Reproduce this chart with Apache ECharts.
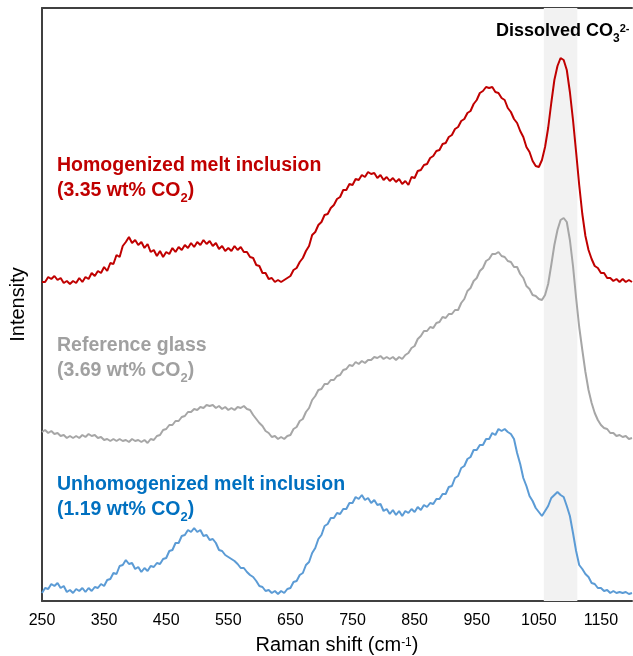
<!DOCTYPE html>
<html><head><meta charset="utf-8">
<script src="https://cdn.jsdelivr.net/npm/echarts@6/dist/echarts.min.js"></script>
<style>html,body{margin:0;padding:0;background:#fff}#c{width:633px;height:656px}</style>
</head><body><div id="c"></div>
<script>
// Raman shift sample positions (cm-1)
const wavenumbers = [
250,255,260,265,270,275,280,285,290,295,300,305,310,315,320,325,330,335,340,345,
350,355,360,365,370,375,380,385,390,395,400,405,410,415,420,425,430,435,440,445,
450,455,460,465,470,475,480,485,490,495,500,505,510,515,520,525,530,535,540,545,
550,555,560,565,570,575,580,585,590,595,600,605,610,615,620,625,630,635,640,645,
650,655,660,665,670,675,680,685,690,695,700,705,710,715,720,725,730,735,740,745,
750,755,760,765,770,775,780,785,790,795,800,805,810,815,820,825,830,835,840,845,
850,855,860,865,870,875,880,885,890,895,900,905,910,915,920,925,930,935,940,945,
950,955,960,965,970,975,980,985,990,995,1000,1005,1010,1015,1020,1025,1030,1035,1040,1045,
1050,1055,1060,1065,1070,1075,1080,1085,1090,1095,1100,1105,1110,1115,1120,1125,1130,1135,1140,1145,
1150,1155,1160,1165,1170,1175,1180,1185,1190,1195,1200];

// Intensities (arbitrary units, stacked offsets as in the figure)
const homogenized = [
318,318,323,321,324,320,322,317,319,316,
319,317,322,318,323,321,327,324,329,327,
333,329,337,336,345,343,354,358,363,357,
360,355,358,352,356,348,350,344,349,343,
348,346,352,348,353,350,355,352,357,353,
358,355,360,356,359,354,357,351,354,349,
352,349,354,350,353,348,348,343,342,335,
334,327,327,321,322,318,320,318,320,322,
324,330,332,338,342,349,354,365,368,375,
378,385,386,392,395,401,403,410,410,416,
415,421,420,425,423,428,426,427,422,425,
420,423,419,422,418,421,416,419,415,423,
422,429,430,435,436,442,444,449,450,456,
457,463,465,471,473,479,481,487,489,496,
500,507,509,513,512,513,508,507,502,500,
492,488,481,477,469,463,453,448,439,434,
433,440,453,472,497,520,534,542,540,530,
508,480,448,415,386,364,350,341,334,332,
327,327,322,322,319,321,318,321,318,320,
318];

const referenceGlass = [
168,170,167,169,166,167,164,165,162,164,
162,164,162,165,163,166,164,165,162,163,
160,161,159,161,159,161,159,160,158,161,
159,160,158,160,157,161,160,164,165,170,
171,175,175,179,179,183,184,188,188,191,
190,193,192,195,194,195,192,194,191,193,
190,192,190,193,192,194,191,190,185,181,
177,174,169,167,163,164,161,163,161,164,
165,171,173,179,181,188,192,200,204,210,
211,216,216,220,220,224,225,230,231,235,
234,238,236,239,237,240,240,243,242,244,
241,243,241,243,240,243,241,245,247,252,
254,261,264,269,269,273,272,277,278,283,
282,286,286,290,290,297,301,309,312,319,
322,329,332,339,341,346,346,348,344,343,
339,338,333,333,326,322,314,311,305,304,
301,300,305,316,335,355,370,380,382,378,
360,334,302,273,250,228,210,197,187,180,
175,172,171,167,167,164,165,163,164,161,
162];

const unhomogenized = [
7,12,11,16,14,17,12,14,8,10,
7,11,9,12,8,12,9,13,12,16,
14,20,21,27,26,34,35,40,36,37,
31,33,28,32,29,34,33,37,36,41,
42,49,50,57,57,64,65,70,68,72,
68,70,64,65,60,61,57,50,49,45,
43,41,39,36,32,32,28,25,23,19,
14,13,9,10,7,9,6,9,7,11,
12,18,19,25,27,35,38,47,52,61,
65,74,76,82,82,87,86,91,91,97,
97,103,101,105,100,102,97,100,95,96,
89,91,86,90,85,89,84,89,87,91,
88,93,90,95,93,97,96,101,101,106,
106,113,114,122,124,132,134,141,143,150,
150,155,155,161,161,167,165,171,169,171,
168,166,161,147,136,122,114,104,99,92,
88,84,89,94,102,105,108,105,103,94,
84,67,49,35,31,26,23,17,16,12,
12,9,10,7,9,7,8,7,8,6,
7];

const xTickValues = [250,350,450,550,650,750,850,950,1050,1150];
const carbonateBand = [1058, 1112];
const seriesNames = ['Homogenized melt inclusion', 'Reference glass', 'Unhomogenized melt inclusion'];
const seriesCO2 = ['3.35', '3.69', '1.19'];
const bandLabel = 'Dissolved CO';

const FONT = "'Liberation Sans', Arial, Helvetica, sans-serif";
const lineColors = ['#C00000', '#A6A6A6', '#5B9BD5'];
const textColors = ['#C00000', '#A0A0A0', '#0070C0'];
const labelCenters = [165.5, 345.5, 484.5];

function pairs(ys) { return wavenumbers.map((w, i) => [w, ys[i]]); }

const chart = echarts.init(document.getElementById('c'), null, {renderer: 'canvas'});

const graphics = [];
seriesNames.forEach((name, i) => {
  graphics.push({
    type: 'text', x: 57, y: labelCenters[i], silent: true, z: 100,
    style: {text: name, fontSize: 19.5, fontWeight: 'bold', fontFamily: FONT,
            fill: textColors[i], verticalAlign: 'middle', align: 'left'}
  });
  graphics.push({
    type: 'text', x: 57, y: labelCenters[i] + 25 - 14.5, silent: true, z: 100,
    style: {
      text: '{m|(' + seriesCO2[i] + ' wt% CO}{s|2}{m|)}',
      fill: textColors[i], lineHeight: 29, verticalAlign: 'top', align: 'left',
      rich: {
        m: {fontSize: 19.5, fontWeight: 'bold', fontFamily: FONT, fill: textColors[i], verticalAlign: 'middle'},
        s: {fontSize: 13, fontWeight: 'bold', fontFamily: FONT, fill: textColors[i], verticalAlign: 'bottom'}
      }
    }
  });
});
graphics.push({
  type: 'text', x: 496, y: 17, silent: true, z: 100,
  style: {
    text: '{m|' + bandLabel + '}{s|3}{p|2-}',
    fill: '#000', lineHeight: 28, verticalAlign: 'top', align: 'left',
    rich: {
      m: {fontSize: 18, fontWeight: 'bold', fontFamily: FONT, fill: '#000', verticalAlign: 'middle'},
      s: {fontSize: 12, fontWeight: 'bold', fontFamily: FONT, fill: '#000', verticalAlign: 'bottom'},
      p: {fontSize: 11, fontWeight: 'bold', fontFamily: FONT, fill: '#000', verticalAlign: 'top', padding: [6, 0, 0, 0]}
    }
  }
});

const option = {
  animation: false,
  backgroundColor: '#fff',
  grid: {left: 42, right: 1, top: 8, bottom: 55, containLabel: false, outerBoundsMode: 'none'},
  xAxis: [{
    type: 'value', min: 250, max: 1200, interval: 100, position: 'bottom',
    axisLine: {show: true, onZero: false, lineStyle: {color: '#404040', width: 2}},
    axisTick: {show: false},
    splitLine: {show: false},
    axisLabel: {fontSize: 16, color: '#000', fontFamily: FONT, margin: 12, showMaxLabel: false,
                formatter: v => xTickValues.indexOf(v) >= 0 ? String(v) : ''},
    name: '{m|Raman shift (cm}{p|-1}{m|)}',
    nameLocation: 'middle', nameGap: 32,
    nameTextStyle: {
      lineHeight: 24,
      rich: {
        m: {fontSize: 20, fontFamily: FONT, color: '#000', verticalAlign: 'middle'},
        p: {fontSize: 12, fontFamily: FONT, color: '#000', verticalAlign: 'top', padding: [3, 0, 0, 0]}
      }
    }
  }, {
    type: 'value', min: 250, max: 1200, position: 'top',
    axisLine: {show: true, onZero: false, lineStyle: {color: '#404040', width: 2}},
    axisTick: {show: false}, axisLabel: {show: false}, splitLine: {show: false}
  }],
  yAxis: {
    type: 'value', min: -1, max: 592,
    axisLine: {show: true, onZero: false, lineStyle: {color: '#404040', width: 2}},
    axisTick: {show: false}, axisLabel: {show: false}, splitLine: {show: false},
    name: 'Intensity', nameLocation: 'middle', nameGap: 14,
    nameTextStyle: {fontSize: 20, fontFamily: FONT, color: '#000'}
  },
  series: [
    {
      name: seriesNames[0], type: 'line', data: pairs(homogenized), symbol: 'none', silent: true,
      lineStyle: {color: lineColors[0], width: 2}, itemStyle: {color: lineColors[0]},
      markArea: {silent: true, itemStyle: {color: '#F2F2F2'},
                 data: [[{xAxis: carbonateBand[0]}, {xAxis: carbonateBand[1]}]]}
    },
    {
      name: seriesNames[1], type: 'line', data: pairs(referenceGlass), symbol: 'none', silent: true,
      lineStyle: {color: lineColors[1], width: 2}, itemStyle: {color: lineColors[1]}
    },
    {
      name: seriesNames[2], type: 'line', data: pairs(unhomogenized), symbol: 'none', silent: true,
      lineStyle: {color: lineColors[2], width: 2}, itemStyle: {color: lineColors[2]}
    }
  ],
  graphic: graphics
};
chart.setOption(option);
</script>
</body></html>
